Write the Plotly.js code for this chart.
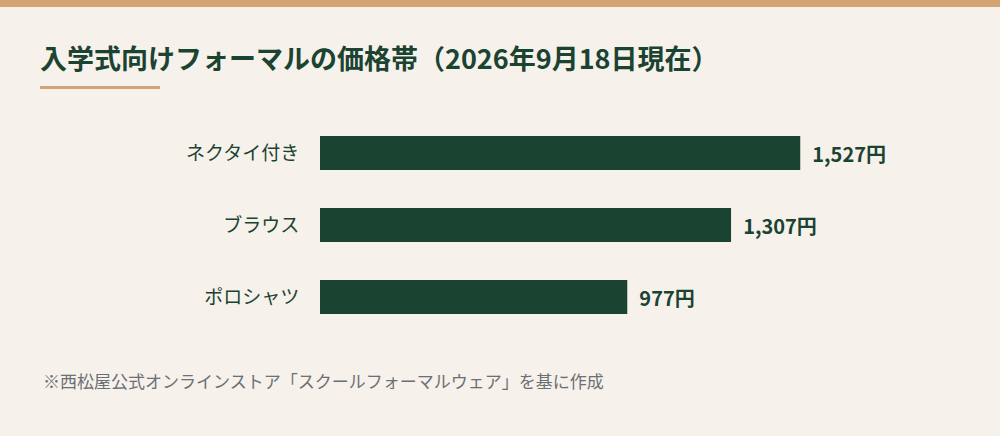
<!DOCTYPE html>
<html>
<head>
<meta charset="utf-8">
<script src="https://cdn.plot.ly/plotly-3.0.1.min.js"></script>
<style>
html,body{margin:0;padding:0;background:#f6f1ea;}
#chart{width:1000px;height:436px;}
</style>
</head>
<body>
<div id="chart"></div>
<script>
const categories = ["ネクタイ付き", "ブラウス", "ポロシャツ"];
const prices = [1527, 1307, 977];
const priceLabels = ["1,527円", "1,307円", "977円"];
const titleText = "入学式向けフォーマルの価格帯（2026年9月18日現在）";
const noteText = "※西松屋公式オンラインストア「スクールフォーマルウェア」を基に作成";

const W = 1000, H = 436;
const mL = 320, mR = 51, mT = 117, mB = 103;
const pw = W - mL - mR, ph = H - mT - mB;
const px = x => (x - mL) / pw;
const py = y => (H - mB - y) / ph;

const font = '"Noto Sans CJK JP", "Noto Sans", sans-serif';
const green = '#1b4332';

const trace = {
  type: 'bar',
  orientation: 'h',
  y: categories,
  x: prices,
  text: priceLabels,
  texttemplate: '\u00a0\u00a0%{text}',
  textposition: 'outside',
  cliponaxis: false,
  textfont: {family: font, size: 20, color: green, weight: 600},
  marker: {color: green},
  width: 0.47,
  hoverinfo: 'skip'
};

const layout = {
  width: W, height: H,
  paper_bgcolor: '#f6f1ea',
  plot_bgcolor: '#f6f1ea',
  margin: {l: mL, r: mR, t: mT, b: mB, pad: 0},
  showlegend: false,
  title: {
    text: titleText,
    font: {family: font, size: 27, color: green, weight: 700},
    xref: 'container', yref: 'container',
    x: 40 / W, xanchor: 'left',
    y: 1 - 60 / H, yanchor: 'middle'
  },
  xaxis: {
    range: [0, 2000],
    showgrid: false, zeroline: false, showline: false,
    showticklabels: false, ticks: '', fixedrange: true
  },
  yaxis: {
    autorange: 'reversed',
    showgrid: false, zeroline: false, showline: false,
    ticks: 'outside', ticklen: 16, tickcolor: 'rgba(0,0,0,0)',
    tickfont: {family: font, size: 19, color: green},
    fixedrange: true
  },
  shapes: [
    {type: 'rect', xref: 'paper', yref: 'paper',
     x0: px(0), x1: px(W), y0: py(0), y1: py(7),
     fillcolor: '#d4a373', line: {width: 0}, layer: 'above'},
    {type: 'rect', xref: 'paper', yref: 'paper',
     x0: px(40), x1: px(160), y0: py(86), y1: py(89),
     fillcolor: '#d4a373', line: {width: 0}, layer: 'above'}
  ],
  annotations: [
    {text: noteText, xref: 'paper', yref: 'paper',
     x: px(41), y: py(380), xanchor: 'left', yanchor: 'middle',
     showarrow: false,
     font: {family: font, size: 17, color: '#6b6f76'}}
  ]
};

Plotly.newPlot('chart', [trace], layout, {displayModeBar: false, staticPlot: true});
</script>
</body>
</html>
